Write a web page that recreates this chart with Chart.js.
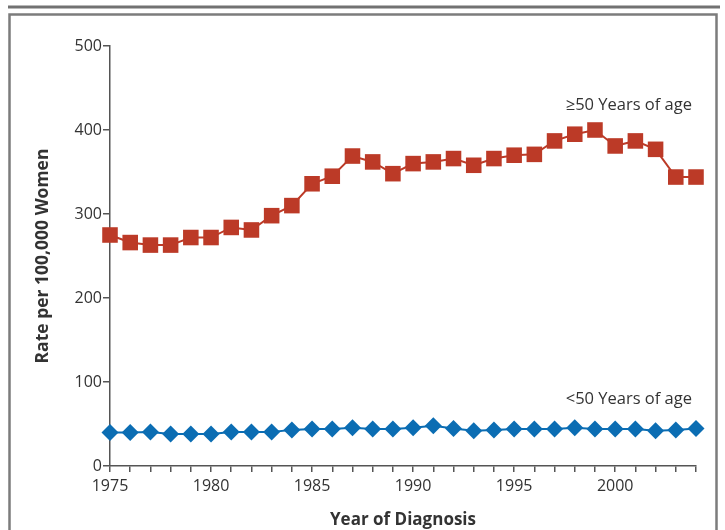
<!DOCTYPE html>
<html>
<head>
<meta charset="utf-8">
<script src="https://cdn.jsdelivr.net/npm/chart.js@4"></script>
<style>
  html, body { margin: 0; padding: 0; background: #fff; }
  #wrap { width: 725px; height: 530px; position: relative; }
</style>
</head>
<body>
<div id="wrap"><canvas id="c" width="725" height="530"></canvas></div>
<script>
const years = [1975,1976,1977,1978,1979,1980,1981,1982,1983,1984,1985,1986,1987,1988,1989,
               1990,1991,1992,1993,1994,1995,1996,1997,1998,1999,2000,2001,2002,2003,2004];
const olderRates = [275,266,263,263,272,272,284,281,298,310,336,345,369,362,348,
                    360,362,366,358,366,370,371,387,395,400,381,387,377,344,344];
const youngerRates = [40,40,40.5,38,38,38,40.5,40.5,40.5,43,44,44,45.6,44,44,
                      45.6,48,44.7,42,43,44,44,44,45.6,44,44,44,42,43,44.7];
const olderLabel = '\u226550 Years of age';
const youngerLabel = '<50 Years of age';
const yAxisTitle = 'Rate per 100,000 Women';
const xAxisTitle = 'Year of Diagnosis';

const RED = '#bc3a27';
const BLUE = '#0b6db3';
const AXIS = '#555555';
const FONT = "'Open Sans', 'Noto Sans', sans-serif";

const framePlugin = {
  id: 'frame',
  beforeDraw(chart) {
    const ctx = chart.ctx;
    ctx.save();
    ctx.strokeStyle = '#727272';
    ctx.lineWidth = 3;
    ctx.beginPath();
    ctx.moveTo(8, 7); ctx.lineTo(720, 7);
    ctx.stroke();
    ctx.strokeStyle = '#7c7c7c';
    ctx.lineWidth = 2.5;
    ctx.beginPath();
    ctx.moveTo(9.5, 540); ctx.lineTo(9.5, 14.5); ctx.lineTo(716.5, 14.5); ctx.lineTo(716.5, 540);
    ctx.stroke();
    ctx.restore();
  },
  afterDatasetsDraw(chart) {
    const ctx = chart.ctx;
    const xs = chart.scales.x, ys = chart.scales.y;
    ctx.save();
    ctx.fillStyle = '#333333';
    ctx.font = "16.5px " + FONT;
    ctx.textAlign = 'right';
    ctx.textBaseline = 'middle';
    const xr = xs.getPixelForValue(years[years.length - 1]) - 4;
    ctx.fillText(olderLabel, xr, ys.getPixelForValue(430));
    ctx.fillText(youngerLabel, xr, ys.getPixelForValue(79));
    ctx.restore();
  }
};

new Chart(document.getElementById('c'), {
  type: 'line',
  data: {
    datasets: [
      {
        label: youngerLabel,
        data: years.map((y, i) => ({x: y, y: youngerRates[i]})),
        borderColor: BLUE,
        backgroundColor: BLUE,
        borderWidth: 2,
        pointStyle: 'rectRot',
        pointRadius: 8.5,
        pointBorderWidth: 0,
        pointBackgroundColor: BLUE,
        clip: false,
        tension: 0
      },
      {
        label: olderLabel,
        data: years.map((y, i) => ({x: y, y: olderRates[i]})),
        borderColor: RED,
        backgroundColor: RED,
        borderWidth: 2,
        pointStyle: 'rect',
        pointRadius: 11,
        pointBorderWidth: 0,
        pointBackgroundColor: RED,
        clip: false,
        tension: 0
      }
    ]
  },
  options: {
    responsive: false,
    animation: false,
    devicePixelRatio: 1,
    layout: { padding: { left: 26, top: 46, right: 29, bottom: 0 } },
    plugins: { legend: { display: false }, tooltip: { enabled: false } },
    scales: {
      x: {
        type: 'linear',
        min: years[0],
        max: years[years.length - 1],
        afterFit(s) { s.height = 64; },
        border: { color: AXIS, width: 1.5 },
        grid: { drawOnChartArea: false, drawTicks: true, tickLength: 6, color: AXIS, lineWidth: 1.5 },
        ticks: {
          stepSize: 1,
          autoSkip: false,
          maxRotation: 0,
          padding: 5,
          color: '#333333',
          font: { family: FONT, size: 16 },
          callback: v => (v % 5 === 0 ? String(v) : '')
        },
        title: {
          display: true,
          text: xAxisTitle,
          color: '#333333',
          font: { family: FONT, size: 17, weight: 'bold' },
          padding: { top: 0, bottom: 0 }
        }
      },
      y: {
        min: 0,
        max: 500,
        afterFit(s) { s.width = 110 - 26; },
        border: { color: AXIS, width: 1.5 },
        grid: { drawOnChartArea: false, drawTicks: true, tickLength: 7, color: AXIS, lineWidth: 1.5 },
        ticks: {
          stepSize: 100,
          padding: 1,
          color: '#333333',
          font: { family: FONT, size: 16 }
        },
        title: {
          display: true,
          text: yAxisTitle,
          color: '#333333',
          font: { family: FONT, size: 17.5, weight: 'bold' },
          padding: { top: 7, bottom: 0 }
        }
      }
    }
  },
  plugins: [framePlugin]
});
</script>
</body>
</html>
